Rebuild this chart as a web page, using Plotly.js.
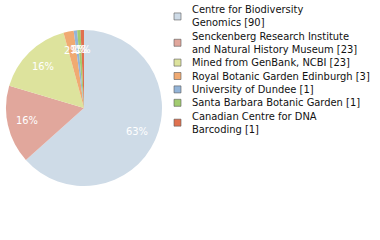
<!DOCTYPE html>
<html><head><meta charset="utf-8">
<script src="https://cdn.plot.ly/plotly-3.0.1.min.js"></script>
<style>html,body{margin:0;padding:0;background:#fff}#c{width:380px;height:240px}</style>
</head><body><div id="c"></div>
<script>
const labels = [
  "Centre for Biodiversity<br>Genomics [90]",
  "Senckenberg Research Institute<br>and Natural History Museum [23]",
  "Mined from GenBank, NCBI [23]",
  "Royal Botanic Garden Edinburgh [3]",
  "University of Dundee [1]",
  "Santa Barbara Botanic Garden [1]",
  "Canadian Centre for DNA<br>Barcoding [1]"
];
const values = [90, 23, 23, 3, 1, 1, 1];
const colors = ["#cedbe7", "#e1a79c", "#dde39d", "#f0aa72", "#93b4d8", "#a2cc70", "#e0714f"];

const W = 380, H = 240;
const cx = 84, cy = 108, R = 78;
const FONT = "DejaVu Sans Condensed";

const total = values.reduce((a, b) => a + b, 0);
const annotations = [];
const shapes = [];

// percentage labels at 0.75 of the radius along each slice's middle angle
let cum = 0;
values.forEach((v) => {
  const mid = (cum + v / 2) / total * 2 * Math.PI;
  cum += v;
  const px = cx + 0.75 * R * Math.sin(mid);
  const py = cy - 0.75 * R * Math.cos(mid);
  annotations.push({
    xref: "paper", yref: "paper", x: px / W, y: 1 - py / H,
    xanchor: "center", yanchor: "middle", showarrow: false,
    text: Math.round(v / total * 100) + "%",
    font: {family: FONT, size: 11, color: "#ffffff"}
  });
});

// legend drawn as text lines and squares
const pitch = 12.9, gap = 0.5;
let lineIdx = 0;
labels.forEach((lab, e) => {
  const lines = lab.split("<br>");
  const first = 10 + pitch * lineIdx + gap * e;
  lines.forEach((ln, k) => {
    const y = first + pitch * k;
    annotations.push({
      xref: "paper", yref: "paper", x: 191 / W, y: 1 - y / H,
      xanchor: "left", yanchor: "middle", showarrow: false,
      text: ln, borderpad: 0,
      font: {family: FONT, size: 11, color: "#111111"}
    });
  });
  const mid = first + pitch * (lines.length - 1) / 2;
  shapes.push({
    type: "rect", xref: "paper", yref: "paper",
    x0: 174 / W, x1: 181 / W, y0: 1 - (mid - 3.5) / H, y1: 1 - (mid + 3.5) / H,
    fillcolor: colors[e], line: {color: "rgba(90,90,90,0.6)", width: 1}
  });
  lineIdx += lines.length;
});

Plotly.newPlot("c", [{
  type: "pie",
  labels: labels,
  values: values,
  sort: false,
  direction: "clockwise",
  rotation: 0,
  marker: {colors: colors, line: {width: 0}},
  textinfo: "none",
  hoverinfo: "none",
  domain: {x: [(cx - R) / W, (cx + R) / W], y: [1 - (cy + R) / H, 1 - (cy - R) / H]}
}], {
  width: W, height: H,
  margin: {l: 0, r: 0, t: 0, b: 0, autoexpand: false},
  paper_bgcolor: "#fff",
  showlegend: false,
  annotations: annotations,
  shapes: shapes
}, {staticPlot: true});
</script></body></html>
